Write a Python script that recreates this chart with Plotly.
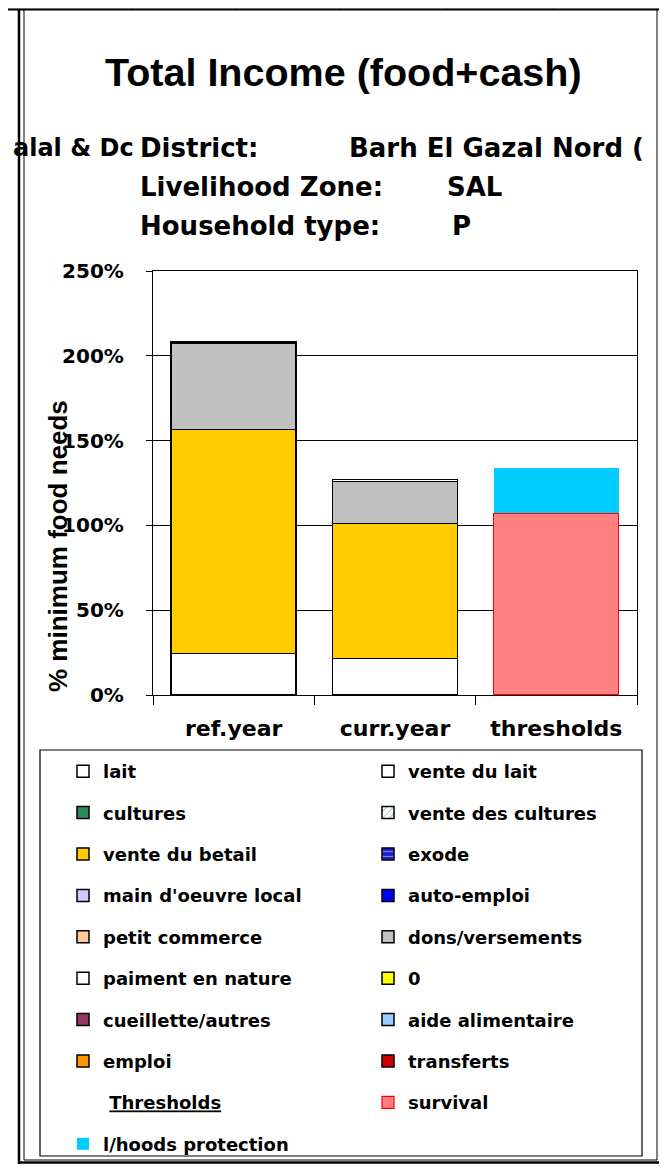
import plotly.graph_objects as go

# ---------------- data ----------------
categories = ["ref.year", "curr.year", "thresholds"]

series_names = [
    "lait", "vente du lait", "cultures", "vente des cultures",
    "vente du betail", "exode", "main d'oeuvre local", "auto-emploi",
    "petit commerce", "dons/versements", "paiment en nature", "0",
    "cueillette/autres", "aide alimentaire", "emploi", "transferts",
    "Thresholds", "survival", "l/hoods protection",
]

lait = [24.6, 21.6, 0]
vente_du_lait = [0, 0, 0]
cultures = [0, 0, 0]
vente_des_cultures = [0, 0, 0]
vente_du_betail = [131.9, 79.6, 0]
exode = [0, 0, 0]
main_oeuvre_local = [0, 0, 0]
auto_emploi = [0, 0, 0]
petit_commerce = [0, 0, 0]
dons_versements = [51.0, 24.6, 0]
paiment_en_nature = [1.0, 1.2, 0]
zero_series = [0, 0, 0]
cueillette_autres = [0, 0, 0]
aide_alimentaire = [0, 0, 0]
emploi = [0, 0, 0]
transferts = [0, 0, 0]
thresholds_header = [None, None, None]
survival = [None, None, 107.1]
lhoods_protection = [None, None, 26.6]

series_values = [
    lait, vente_du_lait, cultures, vente_des_cultures, vente_du_betail,
    exode, main_oeuvre_local, auto_emploi, petit_commerce, dons_versements,
    paiment_en_nature, zero_series, cueillette_autres, aide_alimentaire,
    emploi, transferts, thresholds_header, survival, lhoods_protection,
]

y_tick_values = [0, 50, 100, 150, 200, 250]
y_tick_labels = ["0%", "50%", "100%", "150%", "200%", "250%"]

# ---------------- styles ----------------
fill_colors = [
    "#FFFFFF", "#FFFFFF", "#2E8B57", "#FFFFFF", "#FFCC00", "#1F1FCC",
    "#CCCCFF", "#0000FF", "#FFCC99", "#C0C0C0", "#FFFFFF", "#FFFF00",
    "#993366", "#99CCFF", "#FF9900", "#CC0000", "rgba(0,0,0,0)",
    "#FF8080", "#00CCFF",
]
line_colors = ["#000000"] * 16 + ["rgba(0,0,0,0)", "#FF0000", "rgba(0,0,0,0)"]
line_widths = [1.5] * 16 + [0, 1.2, 0]
patterns = {3: dict(shape="/", fgcolor="#006633", bgcolor="#FFFFFF", size=6),
            5: dict(shape="-", fgcolor="#FFFFFF", bgcolor="#1F1FCC", size=6)}

# page geometry (the page body adds an 8px margin around the figure)
OFF = 8
W, H = 667 - OFF, 1172 - 2 * OFF
PL, PR, PT, PB = 153, 637, 271, 695   # plot area in page pixels


def px(x):
    return (x - PL) / (PR - PL)


def py(y):
    return (PB - y) / (PB - PT)


fig = go.Figure()
for i, (name, vals) in enumerate(zip(series_names, series_values)):
    label = name
    if name == "Thresholds":
        label = "\u00a0<u>Thresholds</u>"
    marker = dict(color=fill_colors[i],
                  line=dict(color=line_colors[i], width=line_widths[i]))
    if i in patterns:
        marker["pattern"] = patterns[i]
    fig.add_trace(go.Bar(
        x=categories, y=vals, name=label, marker=marker,
        legendgroup=name, legend="legend" if i % 2 == 0 else "legend2",
        hoverinfo="skip",
    ))

tick_font = dict(family="DejaVu Sans", size=20, color="#000000", weight="bold")
legend_font = dict(family="DejaVu Sans", size=18, color="#000000", weight="bold")
sub_font = dict(family="DejaVu Sans", size=26, color="#000000", weight="bold")

annotations = [
    dict(text="Total Income (food+cash)", x=px(343.5), y=py(72),
         font=dict(family="Liberation Sans", size=39.5, color="#000000", weight="bold"),
         xanchor="center", yanchor="middle"),
    dict(text="alal & Dc", x=px(136), y=py(148), xanchor="right", yanchor="middle",
         font=dict(family="DejaVu Sans", size=24, color="#000000", weight="bold")),
    dict(text="District:", x=px(138), y=py(148), xanchor="left", yanchor="middle", font=sub_font),
    dict(text="Barh El Gazal Nord (", x=px(347), y=py(148), xanchor="left", yanchor="middle", font=sub_font),
    dict(text="Livelihood Zone:", x=px(138), y=py(187), xanchor="left", yanchor="middle", font=sub_font),
    dict(text="SAL", x=px(445), y=py(187), xanchor="left", yanchor="middle", font=sub_font),
    dict(text="Household type:", x=px(138), y=py(226), xanchor="left", yanchor="middle", font=sub_font),
    dict(text="P", x=px(450), y=py(226), xanchor="left", yanchor="middle", font=sub_font),
    dict(text="% minimum food needs", x=px(58), y=py(546), textangle=-90,
         xanchor="center", yanchor="middle",
         font=dict(family="Liberation Sans", size=26, color="#000000", weight="bold")),
]
for a in annotations:
    a.update(xref="paper", yref="paper", showarrow=False)

shapes = [
    # spreadsheet header strip
    dict(type="rect", x0=px(0), x1=px(667), y0=py(0), y1=py(9),
         fillcolor="#DCE3ED", line=dict(width=0)),
]
for sx in [25, 132, 236, 340, 447, 553, 657]:
    shapes.append(dict(type="line", x0=px(sx), x1=px(sx), y0=py(0), y1=py(9),
                       line=dict(color="#9EB0C8", width=1)))
# outer double frame
shapes += [
    dict(type="line", x0=px(0), x1=px(667), y0=py(9.5), y1=py(9.5), line=dict(color="#000", width=2)),
    dict(type="line", x0=px(19), x1=px(19), y0=py(9), y1=py(1164), line=dict(color="#000", width=2.5)),
    dict(type="line", x0=px(24), x1=px(24), y0=py(9), y1=py(1160), line=dict(color="#000", width=1)),
    dict(type="line", x0=px(657), x1=px(657), y0=py(9), y1=py(1160), line=dict(color="#000", width=1)),
    dict(type="line", x0=px(663), x1=px(663), y0=py(9), y1=py(1164), line=dict(color="#000", width=2.5)),
    dict(type="line", x0=px(24), x1=px(657), y0=py(1160), y1=py(1160), line=dict(color="#000", width=1)),
    dict(type="line", x0=px(19), x1=px(663), y0=py(1162.5), y1=py(1162.5), line=dict(color="#000", width=2.5)),
    # legend box
    dict(type="rect", x0=px(40), x1=px(642), y0=py(750), y1=py(1156),
         line=dict(color="#000", width=1.2), fillcolor="rgba(0,0,0,0)"),
]
for s in shapes:
    s.update(xref="paper", yref="paper")

legend_common = dict(
    orientation="v", xanchor="left", yanchor="top", traceorder="grouped",
    tracegroupgap=15.0, bgcolor="rgba(0,0,0,0)", borderwidth=0,
    font=legend_font, itemclick=False, itemdoubleclick=False,
)

fig.update_layout(
    width=W, height=H, autosize=False,
    margin=dict(l=PL - OFF, r=W - (PR - OFF), t=PT - OFF, b=H - (PB - OFF), pad=0,
                autoexpand=False),
    paper_bgcolor="#FFFFFF", plot_bgcolor="#FFFFFF",
    barmode="stack", bargap=0.225,
    showlegend=True,
    legend=dict(x=px(63), y=py(753), **legend_common),
    legend2=dict(x=px(368), y=py(753), **legend_common),
    xaxis=dict(
        type="category", categoryorder="array", categoryarray=categories,
        showline=True, linecolor="#000000", linewidth=1.2, mirror=True,
        ticks="outside", ticklen=9, tickcolor="#000000", tickwidth=1.2,
        tickson="boundaries", ticklabelstandoff=13, automargin=False,
        tickfont=dict(family="DejaVu Sans", size=22, color="#000000", weight="bold"),
        showgrid=False, zeroline=False, fixedrange=True,
    ),
    yaxis=dict(
        range=[0, 250], tickmode="array", tickvals=y_tick_values, ticktext=y_tick_labels,
        showline=True, linecolor="#000000", linewidth=1.2, mirror=True,
        ticks="outside", ticklen=6, tickcolor="#000000", tickwidth=1.2,
        ticklabelstandoff=18, tickfont=tick_font, automargin=False,
        showgrid=True, gridcolor="#000000", gridwidth=1.2,
        zeroline=False, fixedrange=True,
    ),
    annotations=annotations,
    shapes=shapes,
)

fig.write_html("out.html")
